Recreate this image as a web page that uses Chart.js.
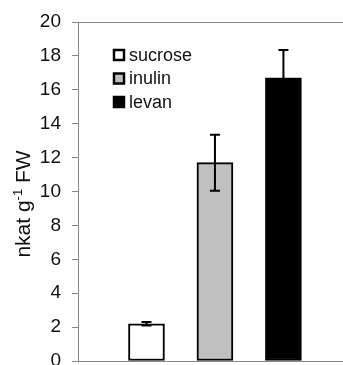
<!DOCTYPE html>
<html>
<head>
<meta charset="utf-8">
<script src="https://cdn.jsdelivr.net/npm/chart.js@4"></script>
<style>
  html, body { margin: 0; padding: 0; background: #fff; }
  #wrap { width: 343px; height: 365px; }
</style>
</head>
<body>
<div id="wrap"><canvas id="enzChart" width="343" height="365"></canvas></div>
<script>
const sugars = ['sucrose', 'inulin', 'levan'];
const positions = [1, 2, 3];
const activity = [2.2, 11.7, 16.7];
const errors = [0.1, 1.65, 1.65];
const fills = ['#ffffff', '#c0c0c0', '#000000'];
const yTicks = [0, 2, 4, 6, 8, 10, 12, 14, 16, 18, 20];

const FONT = 'Liberation Sans, Arial, sans-serif';

// error bars, top frame line, y title and the in-plot legend
const extras = {
    id: 'extras',
    afterDatasetsDraw(chart) {
        const { ctx, chartArea, scales } = chart;
        const x = scales.x, y = scales.y;
        ctx.save();
        ctx.strokeStyle = '#000';
        ctx.lineWidth = 2;
        chart.data.datasets.forEach((ds, i) => {
            const px = x.getPixelForValue(ds.data[0].x);
            const v = ds.data[0].y, e = errors[i];
            const top = y.getPixelForValue(v + e);
            const bot = y.getPixelForValue(v - e);
            ctx.beginPath();
            ctx.moveTo(px, top); ctx.lineTo(px, bot);
            ctx.moveTo(px - 5, top); ctx.lineTo(px + 5, top);
            ctx.moveTo(px - 5, bot); ctx.lineTo(px + 5, bot);
            ctx.stroke();
        });

        // top frame
        ctx.strokeStyle = '#888';
        ctx.lineWidth = 1;
        ctx.beginPath();
        ctx.moveTo(chartArea.left, chartArea.top + 0.5);
        ctx.lineTo(chartArea.right, chartArea.top + 0.5);
        ctx.stroke();

        // legend
        ctx.textBaseline = 'middle';
        ctx.textAlign = 'left';
        ctx.font = '18px ' + FONT;
        chart.data.datasets.forEach((ds, i) => {
            const cy = 55 + i * 23.5;
            ctx.fillStyle = ds.backgroundColor;
            ctx.fillRect(114, cy - 5, 10, 10);
            ctx.strokeStyle = '#000';
            ctx.lineWidth = 2.5;
            ctx.strokeRect(114, cy - 5, 10, 10);
            ctx.fillStyle = '#111';
            ctx.fillText(ds.label, 129, cy + 1);
        });

        // y axis title with superscript
        ctx.translate(30, 204);
        ctx.rotate(-Math.PI / 2);
        ctx.fillStyle = '#111';
        ctx.textBaseline = 'alphabetic';
        const big = '21px ' + FONT, small = '13px ' + FONT;
        const p1 = 'nkat g', p2 = '-1', p3 = ' FW';
        ctx.font = big;
        const w1 = ctx.measureText(p1).width, w3 = ctx.measureText(p3).width;
        ctx.font = small;
        const w2 = ctx.measureText(p2).width;
        let sx = -(w1 + w2 + w3) / 2;
        ctx.font = big;
        ctx.fillText(p1, sx, 0);
        sx += w1;
        ctx.font = small;
        ctx.fillText(p2, sx, -8);
        sx += w2;
        ctx.font = big;
        ctx.fillText(p3, sx, 0);
        ctx.restore();
    }
};

const ctx = document.getElementById('enzChart').getContext('2d');
const enzChart = new Chart(ctx, {
    type: 'bar',
    data: {
        datasets: sugars.map((s, i) => ({
            label: s,
            data: [{ x: positions[i], y: activity[i] }],
            backgroundColor: fills[i],
            borderColor: '#000',
            borderWidth: 2,
            borderSkipped: false,
            barThickness: 36,
            grouped: false
        }))
    },
    options: {
        responsive: false,
        animation: false,
        layout: { padding: { top: 22, bottom: 4, left: 0, right: 0 } },
        scales: {
            x: {
                type: 'linear',
                offset: false,
                min: 0,
                max: 3.87,
                afterFit(scale) { scale.paddingLeft = 0; scale.paddingRight = 0; },
                grid: { display: false, drawTicks: false },
                ticks: { display: false },
                border: { display: true, color: '#888', width: 1 }
            },
            y: {
                min: 0,
                max: 20,
                afterFit(scale) {
                    scale.width = 78;
                    scale.paddingTop = 0;
                    scale.paddingBottom = 0;
                },
                afterBuildTicks(scale) { scale.ticks = yTicks.map(v => ({ value: v })); },
                ticks: {
                    padding: 11,
                    color: '#111',
                    font: { size: 19, family: FONT }
                },
                grid: {
                    drawOnChartArea: false,
                    drawTicks: true,
                    tickLength: 6,
                    color: '#888'
                },
                border: { display: true, color: '#888', width: 1 }
            }
        },
        plugins: {
            legend: { display: false },
            tooltip: { enabled: false }
        }
    },
    plugins: [extras]
});
</script>
</body>
</html>
